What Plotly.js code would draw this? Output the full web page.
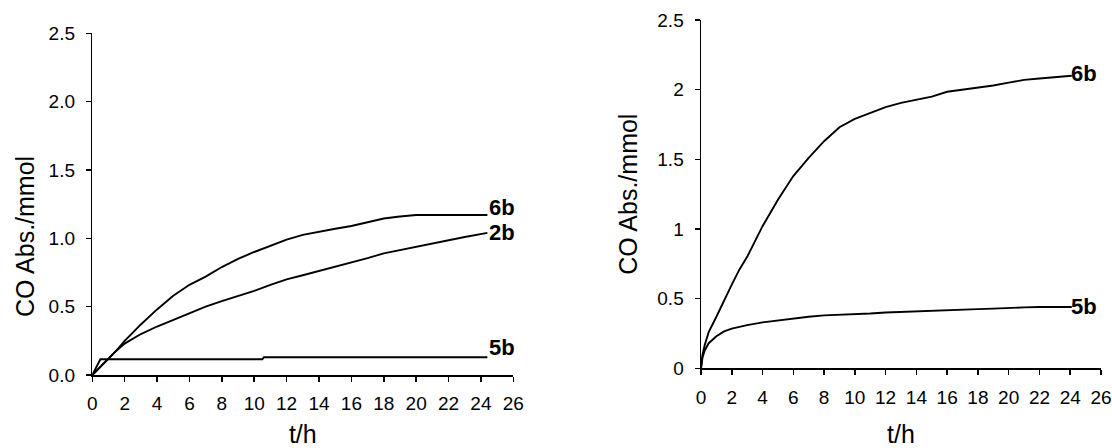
<!DOCTYPE html>
<html>
<head>
<meta charset="utf-8">
<script src="https://cdn.plot.ly/plotly-3.0.1.min.js"></script>
<style>html,body{margin:0;padding:0;background:#fff;}#chart{width:1112px;height:448px;}</style>
</head>
<body>
<div id="chart"></div>
<script>
// ---- Left panel data ----
const tLeft = [0, 0.25, 0.5, 1, 1.5, 2, 3, 4, 5, 6, 7, 8, 9, 10, 11, 12, 13, 14, 15, 16, 17, 18, 19, 20, 21, 22, 23, 24.4];
const left6b = [0, 0.03, 0.06, 0.12, 0.18, 0.25, 0.37, 0.48, 0.58, 0.66, 0.72, 0.79, 0.85, 0.90, 0.945, 0.99, 1.025, 1.05, 1.07, 1.09, 1.115, 1.145, 1.16, 1.171, 1.171, 1.171, 1.171, 1.171];
const left2b = [0, 0.03, 0.06, 0.12, 0.18, 0.23, 0.30, 0.355, 0.405, 0.45, 0.50, 0.54, 0.575, 0.615, 0.66, 0.70, 0.73, 0.76, 0.79, 0.825, 0.855, 0.89, 0.915, 0.94, 0.965, 0.99, 1.01, 1.04];
const tLeft5b = [0, 0.2, 0.4, 0.5, 10.5, 10.6, 24.4];
const left5b = [0, 0.05, 0.09, 0.115, 0.115, 0.13, 0.13];

// ---- Right panel data ----
const tRight = [0, 0.1, 0.25, 0.5, 1, 1.5, 2, 2.5, 3, 4, 5, 6, 7, 8, 9, 10, 11, 12, 13, 14, 15, 16, 17, 18, 19, 20, 21, 22, 23, 24.1];
const right6b = [0, 0.1, 0.17, 0.26, 0.37, 0.49, 0.6, 0.71, 0.8, 1.02, 1.21, 1.38, 1.51, 1.63, 1.73, 1.79, 1.83, 1.875, 1.905, 1.93, 1.95, 1.985, 2.0, 2.01, 2.03, 2.05, 2.07, 2.08, 2.09, 2.1];
const right5b = [0, 0.08, 0.13, 0.18, 0.23, 0.265, 0.285, 0.30, 0.31, 0.33, 0.345, 0.355, 0.37, 0.38, 0.383, 0.387, 0.393, 0.40, 0.405, 0.41, 0.415, 0.42, 0.422, 0.425, 0.428, 0.435, 0.437, 0.44, 0.44, 0.44];

// ---- Tick labels / titles ----
const xTicks = [0, 2, 4, 6, 8, 10, 12, 14, 16, 18, 20, 22, 24, 26];
const yTicks = [0, 0.5, 1, 1.5, 2, 2.5];
const yTickTextLeft = ['0.0', '0.5', '1.0', '1.5', '2.0', '2.5'];
const yTickTextRight = ['0', '0.5', '1', '1.5', '2', '2.5'];
const xTitle = 't/h';
const yTitle = 'CO Abs./mmol';

const FONT = 'Liberation Sans, Arial, sans-serif';
const line = {color: '#000', width: 1.9};
const titleFont = {family: FONT, size: 25, color: '#000'};

const traces = [
  {x: tLeft, y: left6b, name: '6b', xaxis: 'x', yaxis: 'y', mode: 'lines', line: line},
  {x: tLeft, y: left2b, name: '2b', xaxis: 'x', yaxis: 'y', mode: 'lines', line: line},
  {x: tLeft5b, y: left5b, name: '5b', xaxis: 'x', yaxis: 'y', mode: 'lines', line: line},
  {x: tRight, y: right6b, name: '6b', xaxis: 'x2', yaxis: 'y2', mode: 'lines', line: line},
  {x: tRight, y: right5b, name: '5b', xaxis: 'x2', yaxis: 'y2', mode: 'lines', line: line}
];

function lab(text, xs, ys, xa, ya, yshift, xshift) {
  return {text: text, x: xs[xs.length - 1], y: ys[ys.length - 1], xref: xa, yref: ya,
    xanchor: 'left', yanchor: 'middle', showarrow: false, yshift: yshift, xshift: xshift,
    font: {family: FONT, size: 22, color: '#000', weight: 'bold'}};
}

const axisCommon = {
  showline: true, linecolor: '#000', linewidth: 1.5,
  ticks: 'outside', ticklen: 5, tickwidth: 1.5, tickcolor: '#000',
  showgrid: false, zeroline: false, fixedrange: true,
  tickfont: {family: FONT, size: 19, color: '#000'}
};

const layout = {
  width: 1112, height: 448,
  margin: {l: 0, r: 0, t: 0, b: 0},
  paper_bgcolor: '#fff', plot_bgcolor: '#fff',
  showlegend: false,
  font: {family: FONT, color: '#000'},
  xaxis: Object.assign({}, axisCommon, {
    domain: [0.0830, 0.4616], range: [0, 26], anchor: 'y',
    tickvals: xTicks, ticktext: xTicks.map(String), ticklabelstandoff: 6,
    title: {text: xTitle, font: titleFont, standoff: 16}
  }),
  yaxis: Object.assign({}, axisCommon, {
    domain: [0.1629, 0.9257], range: [0, 2.5], anchor: 'x',
    tickvals: yTicks, ticktext: yTickTextLeft, ticklabelstandoff: 7
  }),
  xaxis2: Object.assign({}, axisCommon, {
    domain: [0.6304, 0.9901], range: [0, 26], anchor: 'y2',
    tickvals: xTicks, ticktext: xTicks.map(String), ticklabelstandoff: 6,
    title: {text: xTitle, font: titleFont, standoff: 30}
  }),
  yaxis2: Object.assign({}, axisCommon, {
    domain: [0.1779, 0.9554], range: [0, 2.5], anchor: 'x2',
    tickvals: yTicks, ticktext: yTickTextRight, ticklabelstandoff: 7,
    title: {text: yTitle, font: titleFont, standoff: 12}
  }),
  annotations: [
    {text: yTitle, textangle: -90, x: 25 / 1112, y: 0.471, xref: 'paper', yref: 'paper',
     xanchor: 'center', yanchor: 'middle', showarrow: false, font: titleFont},
    lab('6b', tLeft, left6b, 'x', 'y', 7, 0),
    lab('2b', tLeft, left2b, 'x', 'y', 0, 0),
    lab('5b', tLeft5b, left5b, 'x', 'y', 10, 0),
    lab('6b', tRight, right6b, 'x2', 'y2', 2, -3),
    lab('5b', tRight, right5b, 'x2', 'y2', 1, -3)
  ]
};

Plotly.newPlot('chart', traces, layout, {displayModeBar: false, staticPlot: true});
</script>
</body>
</html>
